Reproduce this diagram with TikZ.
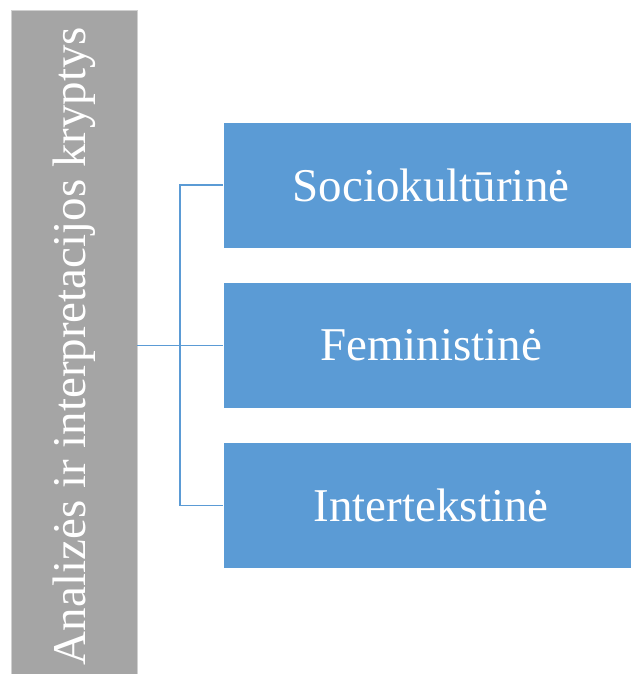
\documentclass[tikz,border=0pt]{standalone}
\usepackage{fontspec}
\setmainfont{Liberation Serif}
\definecolor{boxblue}{HTML}{5B9BD5}
\definecolor{boxgray}{HTML}{A5A5A5}
\definecolor{edgegray}{HTML}{D0D0D0}
\begin{document}
\begin{tikzpicture}[x=1pt,y=-1pt,
  bigfont/.style={font=\fontsize{47}{56}\selectfont},
  headbox/.style={rectangle, fill=boxgray, draw=edgegray, line width=0.6pt,
    text=white, bigfont, inner sep=0pt, rotate=90,
    minimum width=672pt, minimum height=126pt},
  itembox/.style={rectangle, fill=boxblue, draw=white, line width=0.6pt,
    text=white, bigfont, inner sep=0pt,
    minimum width=416pt, minimum height=126pt},
  link/.style={draw=boxblue, line width=1.3pt}]
\useasboundingbox (0,0) rectangle (630,674);
\node[headbox] (g) at (74,346) {\raisebox{0pt}[0pt][0pt]{}Analizės ir interpretacijos kryptys};
\node[itembox] (b1) at (431,185) {Sociokultūrinė};
\node[itembox] (b2) at (431,345.5) {Feministinė};
\node[itembox] (b3) at (431,505.5) {Intertekstinė};
\coordinate (bus) at (180,0);
\draw[link] (b2.west) -- (b2.west -| g.south);
\draw[link] (b1.west) -- (b1.west -| bus) -- (b3.west -| bus) -- (b3.west);
\end{tikzpicture}
\end{document}
